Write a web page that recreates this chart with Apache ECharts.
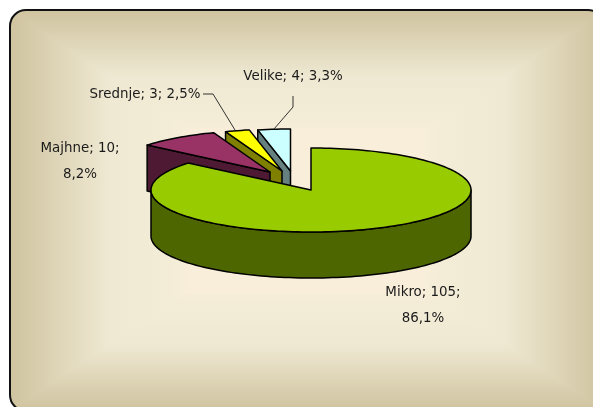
<!DOCTYPE html>
<html>
<head>
<meta charset="utf-8">
<title>Podjetja po velikosti</title>
<style>
	html, body { margin: 0; padding: 0; background: #fff; }
	#chart { width: 593px; height: 407px; }
</style>
<script src="https://cdn.jsdelivr.net/npm/echarts@6/dist/echarts.min.js"></script>
</head>
<body>
<div id="chart"></div>
<script>
// chart data, in the order the pie runs clockwise from 12 o'clock
const categories = [ 'Mikro', 'Majhne', 'Srednje', 'Velike' ];
const counts = [ 105, 10, 3, 4 ];

// top face and side colours per slice
const topColors = [ '#99cc00', '#993366', '#ffff00', '#ccffff' ];
const sideColors = [ '#4d6600', '#4d1933', '#808000', '#668080' ];

// pie layout: flattened ellipse, extrusion depth, exploded centres
const RX = 160;
const RY = 42;
const DEPTH = 46;
const sliceCentres = [ [ 311, 190 ], [ 270, 172 ], [ 282, 171 ], [ 290.5, 171 ] ];
const labelCentres = [ [ 423, 306 ], [ 80, 162 ], [ 145, 95 ], [ 293, 77 ] ];
const labelBreaks = [ true, true, false, false ];
const leaders = [
	null,
	null,
	[ [ 203, 94 ], [ 213, 94 ], [ 235, 130 ] ],
	[ [ 293, 96 ], [ 293, 107 ], [ 274, 129 ] ]
];

const total = counts.reduce( ( a, b ) => a + b, 0 );

const rimPoint = ( c, angle, dy ) => [
	c[ 0 ] + RX * Math.sin( angle ),
	c[ 1 ] - RY * Math.cos( angle ) + ( dy || 0 )
];

const arcPoints = ( c, from, to, dy ) => {
	const steps = Math.max( 2, Math.ceil( Math.abs( to - from ) / 0.03 ) );
	const points = [];
	for ( let i = 0; i <= steps; i++ ) {
		points.push( rimPoint( c, from + ( to - from ) * i / steps, dy ) );
	}
	return points;
};

const lineStyle = { stroke: '#000', lineWidth: 1.5, lineJoin: 'round' };

const polygon = ( points, fill ) => ( {
	type: 'polygon',
	shape: { points },
	style: Object.assign( { fill }, lineStyle )
} );

const labelText = ( i ) => {
	const pct = ( counts[ i ] / total * 100 ).toFixed( 1 ).replace( '.', ',' ) + '%';
	const head = categories[ i ] + '; ' + counts[ i ] + ';';
	return labelBreaks[ i ] ? head + '\n' + pct : head + ' ' + pct;
};

const renderSlice = ( params, api ) => {
	const i = params.dataIndex;
	const c = sliceCentres[ i ];
	const before = counts.slice( 0, i ).reduce( ( a, b ) => a + b, 0 );
	const start = before / total * Math.PI * 2;
	const end = ( before + api.value( 0 ) ) / total * Math.PI * 2;
	const children = [];

	if ( i === 0 ) {
		// big slice: only the front half of the rim wall shows
		const front = arcPoints( c, Math.PI / 2, Math.PI * 3 / 2 );
		const under = arcPoints( c, Math.PI * 3 / 2, Math.PI / 2, DEPTH );
		children.push( polygon( front.concat( under ), sideColors[ i ] ) );
	} else {
		// small slices: the cut face on their left side shows
		const rim = rimPoint( c, start );
		children.push( polygon( [
			rim,
			c,
			[ c[ 0 ], c[ 1 ] + DEPTH ],
			[ rim[ 0 ], rim[ 1 ] + DEPTH ]
		], sideColors[ i ] ) );
	}
	children.push( polygon( [ c ].concat( arcPoints( c, start, end ) ), topColors[ i ] ) );

	// back slices first, Mikro lies on top of everything
	return {
		type: 'group',
		children: children.map( ( child ) => Object.assign( child, { z2: 10 - i } ) )
	};
};

const renderLabel = ( params ) => {
	const i = params.dataIndex;
	const children = [ {
		type: 'text',
		z2: 20,
		style: {
			x: labelCentres[ i ][ 0 ],
			y: labelCentres[ i ][ 1 ],
			text: labelText( i ),
			align: 'center',
			verticalAlign: 'middle',
			fill: '#1a1a1a',
			font: '13.4px "DejaVu Sans"',
			lineHeight: 26
		}
	} ];
	if ( leaders[ i ] ) {
		children.push( {
			type: 'polyline',
			z2: 20,
			shape: { points: leaders[ i ] },
			style: { stroke: '#333', lineWidth: 1, fill: null }
		} );
	}
	return { type: 'group', children };
};

// rectangular "path" gradient: four triangles meeting in the middle of the frame
const x0 = 10;
const y0 = 10;
const x1 = 604;
const y1 = 411;
const cx = ( x0 + x1 ) / 2;
const cy = ( y0 + y1 ) / 2;
const CORNER = 16;
const gradFrom = ( x2, y2 ) => ( {
	type: 'linear',
	global: true,
	x: cx,
	y: cy,
	x2,
	y2,
	colorStops: [
		{ offset: 0, color: '#f9eeda' },
		{ offset: 0.4, color: '#f8eeda' },
		{ offset: 0.46, color: '#f3ecd7' },
		{ offset: 0.665, color: '#efe9d3' },
		{ offset: 1, color: '#cfc39f' }
	]
} );
const triangle = ( points, fill ) => ( { type: 'polygon', shape: { points }, style: { fill }, silent: true } );

const chart = echarts.init( document.getElementById( 'chart' ), null, { renderer: 'canvas' } );
chart.setOption( {
	animation: false,
	backgroundColor: '#fff',
	graphic: [
		// side triangles run a little past the diagonals so no seam shows
		triangle( [ [ cx - 3, cy ], [ x1, y0 - 3 ], [ x1, y1 + 3 ] ], gradFrom( x1, cy ) ),
		triangle( [ [ cx + 3, cy ], [ x0, y0 - 3 ], [ x0, y1 + 3 ] ], gradFrom( x0, cy ) ),
		triangle( [ [ cx, cy ], [ x0, y0 ], [ x1, y0 ] ], gradFrom( cx, y0 ) ),
		triangle( [ [ cx, cy ], [ x1, y1 ], [ x0, y1 ] ], gradFrom( cx, y1 ) ),
		{
			// thick white stroke hides everything outside the rounded frame
			type: 'rect',
			silent: true,
			shape: { x: x0 - 20, y: y0 - 20, width: x1 - x0 + 40, height: y1 - y0 + 40, r: CORNER + 20 },
			style: { fill: null, stroke: '#fff', lineWidth: 40 }
		},
		{
			type: 'rect',
			silent: true,
			shape: { x: x0, y: y0, width: x1 - x0, height: y1 - y0, r: CORNER },
			style: { fill: null, stroke: '#111', lineWidth: 2 }
		}
	].map( ( el ) => Object.assign( el, { z: -1 } ) ),
	series: [
		{
			type: 'custom',
			coordinateSystem: 'none',
			data: counts,
			silent: true,
			renderItem: renderSlice
		},
		{
			type: 'custom',
			coordinateSystem: 'none',
			data: counts,
			silent: true,
			renderItem: renderLabel
		}
	]
} );
</script>
</body>
</html>
